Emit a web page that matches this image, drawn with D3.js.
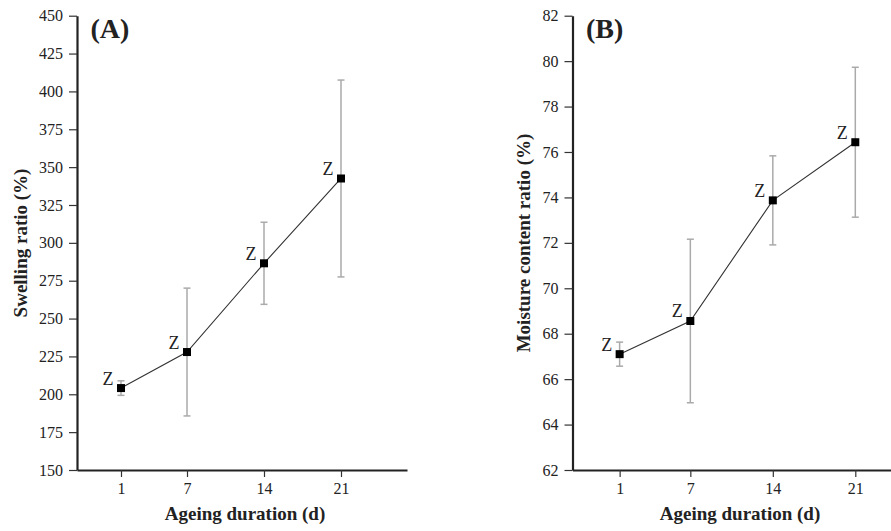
<!DOCTYPE html>
<html><head><meta charset="utf-8">
<script src="https://cdn.jsdelivr.net/npm/d3@7"></script>
<style>
body{margin:0;background:#fff;}
svg text{font-family:"Liberation Serif","Times New Roman","DejaVu Serif",serif !important;}
</style></head>
<body><svg id="c" width="891" height="531"></svg>
<script>
const days = [1, 7, 14, 21];
const xTicks = [1, 7, 14, 21];
const swelling = [204.1, 227.9, 286.5, 342.5];
const swellingErr = [4.8, 42.2, 27.1, 65.0];
const moisture = [67.1, 68.56, 73.87, 76.43];
const moistureErr = [0.53, 3.6, 1.96, 3.3];
const sigLabelsA = ["Z", "Z", "Z", "Z"];
const sigLabelsB = ["Z", "Z", "Z", "Z"];
const yTicksA = d3.range(150, 451, 25);
const yTicksB = d3.range(62, 83, 2);

const FONT = "Liberation Serif, Times New Roman, DejaVu Serif, serif";
const svg = d3.select("#c").attr("font-family", FONT);

function panel(cfg){
  const g = svg.append("g");
  const x = d3.scaleLinear().domain([-3, 27]).range(cfg.xr);
  const y = d3.scaleLinear().domain(cfg.yd).range([470, 15.7]);
  const ax = g.append("g").attr("transform","translate(0,470)")
    .call(d3.axisBottom(x).tickValues(xTicks).tickSize(7).tickPadding(6).tickSizeOuter(0));
  const ay = g.append("g").attr("transform",`translate(${cfg.xr[0]},0)`)
    .call(d3.axisLeft(y).tickValues(cfg.yt).tickSize(8).tickPadding(6).tickSizeOuter(0));
  [ax, ay].forEach(a=>{
    a.attr("font-family", FONT).attr("font-size", 16);
    a.select(".domain").attr("stroke","#222").attr("stroke-width",2.2);
    a.selectAll(".tick line").attr("stroke","#333").attr("stroke-width",1.2);
    a.selectAll(".tick text").attr("fill","#222");
  });
  const eb = g.append("g").attr("stroke","#aaa").attr("stroke-width",1.5);
  cfg.v.forEach((v,i)=>{
    const cx = x(days[i]);
    const t = y(v + cfg.e[i]), b = y(v - cfg.e[i]);
    eb.append("line").attr("x1",cx).attr("x2",cx).attr("y1",t).attr("y2",b);
    eb.append("line").attr("x1",cx-3.5).attr("x2",cx+3.5).attr("y1",t).attr("y2",t);
    eb.append("line").attr("x1",cx-3.5).attr("x2",cx+3.5).attr("y1",b).attr("y2",b);
  });
  g.append("path").datum(cfg.v)
    .attr("fill","none").attr("stroke","#333").attr("stroke-width",1.1)
    .attr("d", d3.line().x((d,i)=>x(days[i])).y(d=>y(d)));
  g.selectAll("rect.m").data(cfg.v).join("rect")
    .attr("x",(d,i)=>x(days[i])-4).attr("y",d=>y(d)-4)
    .attr("width",8).attr("height",8).attr("fill","#000");
  g.selectAll("text.z").data(cfg.v).join("text")
    .attr("x",(d,i)=>x(days[i])-7.5).attr("y",d=>y(d)-3.5)
    .attr("text-anchor","end").attr("font-size",18).attr("fill","#222")
    .text((d,i)=>cfg.sig[i]);
  g.append("text").attr("x",cfg.xr[0]+13.5).attr("y",38)
    .attr("font-size",28).attr("font-weight","bold").attr("fill","#222")
    .text(cfg.label);
  g.append("text").attr("x",cfg.xtx).attr("y",520).attr("text-anchor","middle")
    .attr("font-size",19).attr("font-weight","bold").attr("fill","#222")
    .text("Ageing duration (d)");
  g.append("text").attr("transform",`translate(${cfg.ytx},243) rotate(-90)`)
    .attr("text-anchor","middle")
    .attr("font-size",19).attr("font-weight","bold").attr("fill","#222")
    .text(cfg.ytitle);
}

panel({xr:[77,407], yd:[150,450], yt:yTicksA, v:swelling, e:swellingErr, sig:sigLabelsA,
  label:"(A)", ytitle:"Swelling ratio (%)", xtx:245, ytx:27});
panel({xr:[572.5,926], yd:[62,82], yt:yTicksB, v:moisture, e:moistureErr, sig:sigLabelsB,
  label:"(B)", ytitle:"Moisture content ratio (%)", xtx:740, ytx:530});
</script></body></html>
